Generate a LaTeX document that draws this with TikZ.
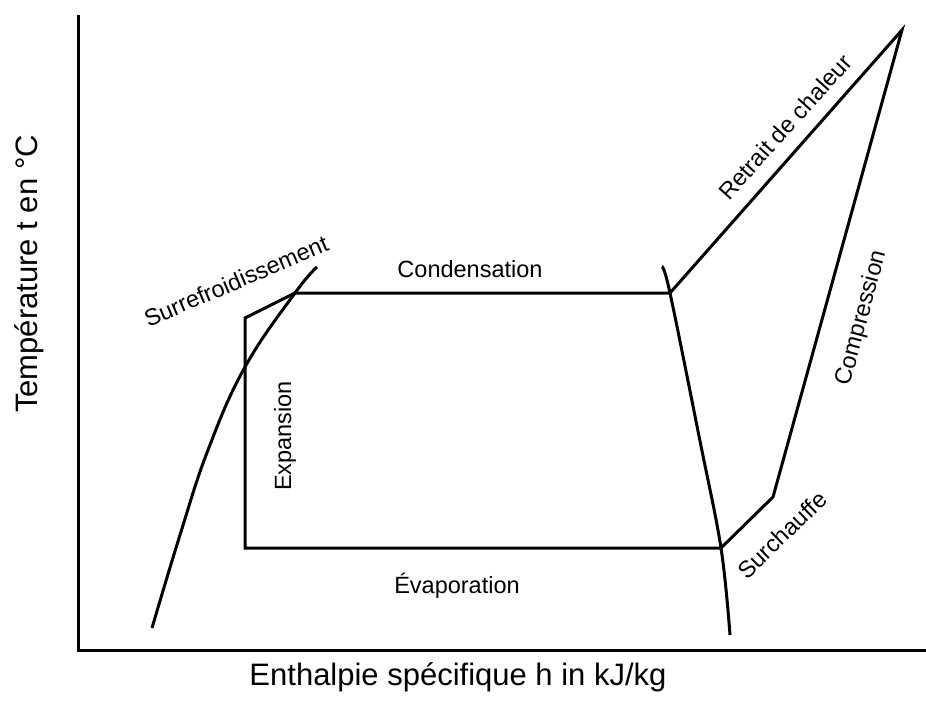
\documentclass[tikz,border=0pt]{standalone}
\usepackage{fontspec}
\setmainfont{Liberation Sans}
\usetikzlibrary{positioning}

\begin{document}
\begin{tikzpicture}[
    x=1pt, y=-1pt,
    % Line styles
    axisline/.style={line width=3pt},
    curve/.style={line width=3pt},
    cycleline/.style={line width=3pt, line join=miter},
    % Text styles
    axislabel/.style={
        font=\fontsize{31}{37}\selectfont,
        anchor=base,
        inner sep=0pt
    },
    steplabel/.style={
        font=\fontsize{23.5}{28}\selectfont,
        anchor=base,
        inner sep=0pt
    }
]
\useasboundingbox (0,0) rectangle (926,709);

% Axes
\coordinate (ytop) at (78,15);
\coordinate (origin) at (78,650);
\coordinate (xend) at (926,650);
\draw[axisline] (ytop) -- (origin) -- (xend);

% Cycle points
\coordinate (liqout) at (245,318);
\coordinate (subcool) at (295,293);
\coordinate (condend) at (670,293);
\coordinate (hot) at (902,30);
\coordinate (supend) at (773,497);
\coordinate (evapend) at (721,548);
\coordinate (expend) at (245,548);

% Saturation curves
\draw[curve] plot[smooth, tension=0.7] coordinates {(152,628) (180,535) (208,450) (245,367) (subcool) (317,267)};
\draw[curve] plot[smooth, tension=0.6] coordinates {(662,267) (condend) (700,441) (evapend) (730,635)};

% Cycle
\draw[cycleline] (expend) -- (liqout) -- (subcool) -- (condend) -- (hot) -- (supend) -- (evapend) -- cycle;

% Axis labels
\node[axislabel] (xlabel) at (458,685) {Enthalpie spécifique h in kJ/kg};
\node[axislabel, rotate=90] (ylabel) at (37,274) {Température t en °C};

% Step labels
\node[steplabel] (condlabel) at (470,277) {Condensation};
\node[steplabel] (evaplabel) at (457,593) {Évaporation};
\node[steplabel, rotate=90] (explabel) at (291,436) {Expansion};
\node[steplabel, anchor=center, rotate=23] (subclabel) at (236,281) {Surrefroidissement};
\node[steplabel, anchor=center, rotate=48] (heatlabel) at (785,127) {Retrait de chaleur};
\node[steplabel, anchor=center, rotate=75] (complabel) at (862,318) {Compression};
\node[steplabel, anchor=center, rotate=44] (suplabel) at (782,535) {Surchauffe};

\end{tikzpicture}
\end{document}
